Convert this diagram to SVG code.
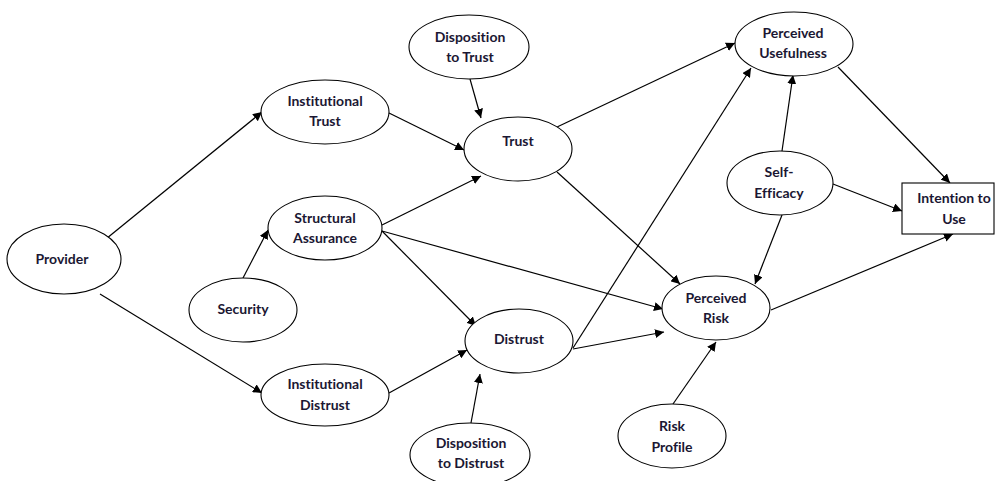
<svg xmlns="http://www.w3.org/2000/svg" width="995" height="481" viewBox="0 0 995 481">
  <defs>
    <marker id="arrow" viewBox="0 0 10 10" refX="10" refY="5" markerWidth="9" markerHeight="9" markerUnits="userSpaceOnUse" orient="auto">
      <path d="M0,0 L10,5 L0,10 z" fill="#000"/>
    </marker>
    <style>
      .node ellipse, .node rect { fill: #fff; stroke: #000; stroke-width: 1.1; }
      .node text { font-family: Lato, "Open Sans", "Liberation Sans", sans-serif; font-weight: bold; font-size: 14px; fill: #1b1733; text-anchor: middle; font-variant-ligatures: none; font-feature-settings: "liga" 0, "dlig" 0; }
      .edges line { stroke: #000; stroke-width: 1.2; marker-end: url(#arrow); }
    </style>
  </defs>
  <rect width="995" height="481" fill="#fff"/>

  <g class="edges">
    <line x1="101" y1="243" x2="262" y2="112"/>
    <line x1="100" y1="294" x2="262" y2="393"/>
    <line x1="389" y1="113" x2="464" y2="150"/>
    <line x1="470" y1="79" x2="481" y2="118"/>
    <line x1="382" y1="225" x2="481" y2="176"/>
    <line x1="382" y1="231" x2="476" y2="326"/>
    <line x1="382" y1="231" x2="663" y2="309"/>
    <line x1="243" y1="278" x2="268" y2="230"/>
    <line x1="389" y1="393" x2="467" y2="350"/>
    <line x1="471" y1="423" x2="480" y2="374"/>
    <line x1="557" y1="127" x2="735" y2="43"/>
    <line x1="557" y1="172" x2="680" y2="284"/>
    <line x1="573" y1="348" x2="751" y2="68"/>
    <line x1="573" y1="349" x2="664" y2="332"/>
    <line x1="782" y1="151" x2="793" y2="75"/>
    <line x1="782" y1="215" x2="755" y2="284"/>
    <line x1="833" y1="184" x2="902" y2="211"/>
    <line x1="838" y1="67" x2="950" y2="183"/>
    <line x1="771" y1="310" x2="953" y2="234"/>
    <line x1="673" y1="404" x2="716" y2="342"/>
  </g>

  <g id="provider" class="node">
    <ellipse cx="64" cy="259" rx="57" ry="35"/>
    <text x="62" y="264">Provider</text>
  </g>
  <g id="disposition-to-trust" class="node">
    <ellipse cx="469" cy="47" rx="60" ry="32"/>
    <text x="470" y="42">Disposition</text>
    <text x="470" y="62">to Trust</text>
  </g>
  <g id="institutional-trust" class="node">
    <ellipse cx="325" cy="112" rx="64" ry="32"/>
    <text x="325" y="106">Institutional</text>
    <text x="325" y="126">Trust</text>
  </g>
  <g id="trust" class="node">
    <ellipse cx="518" cy="149" rx="54" ry="32"/>
    <text x="518" y="146">Trust</text>
  </g>
  <g id="perceived-usefulness" class="node">
    <ellipse cx="794" cy="44" rx="59" ry="32"/>
    <text x="793" y="38">Perceived</text>
    <text x="793" y="58">Usefulness</text>
  </g>
  <g id="self-efficacy" class="node">
    <ellipse cx="780" cy="183" rx="53" ry="32"/>
    <text x="779" y="177">Self-</text>
    <text x="779" y="198">Efficacy</text>
  </g>
  <g id="intention-to-use" class="node">
    <rect x="902" y="183" width="92" height="51"/>
    <text x="954" y="203">Intention to</text>
    <text x="954" y="224">Use</text>
  </g>
  <g id="structural-assurance" class="node">
    <ellipse cx="325" cy="228" rx="57" ry="32"/>
    <text x="325" y="223">Structural</text>
    <text x="325" y="243">Assurance</text>
  </g>
  <g id="security" class="node">
    <ellipse cx="243" cy="310" rx="54" ry="32"/>
    <text x="243" y="314">Security</text>
  </g>
  <g id="perceived-risk" class="node">
    <ellipse cx="716" cy="308" rx="54" ry="32"/>
    <text x="716" y="303">Perceived</text>
    <text x="716" y="323">Risk</text>
  </g>
  <g id="distrust" class="node">
    <ellipse cx="519" cy="341" rx="54" ry="32"/>
    <text x="519" y="344">Distrust</text>
  </g>
  <g id="institutional-distrust" class="node">
    <ellipse cx="325" cy="395" rx="64" ry="31"/>
    <text x="325" y="389">Institutional</text>
    <text x="325" y="410">Distrust</text>
  </g>
  <g id="disposition-to-distrust" class="node">
    <ellipse cx="470" cy="455" rx="60" ry="32"/>
    <text x="471" y="448">Disposition</text>
    <text x="471" y="468">to Distrust</text>
  </g>
  <g id="risk-profile" class="node">
    <ellipse cx="672" cy="436" rx="54" ry="32"/>
    <text x="672" y="431">Risk</text>
    <text x="672" y="452">Profile</text>
  </g>
</svg>
